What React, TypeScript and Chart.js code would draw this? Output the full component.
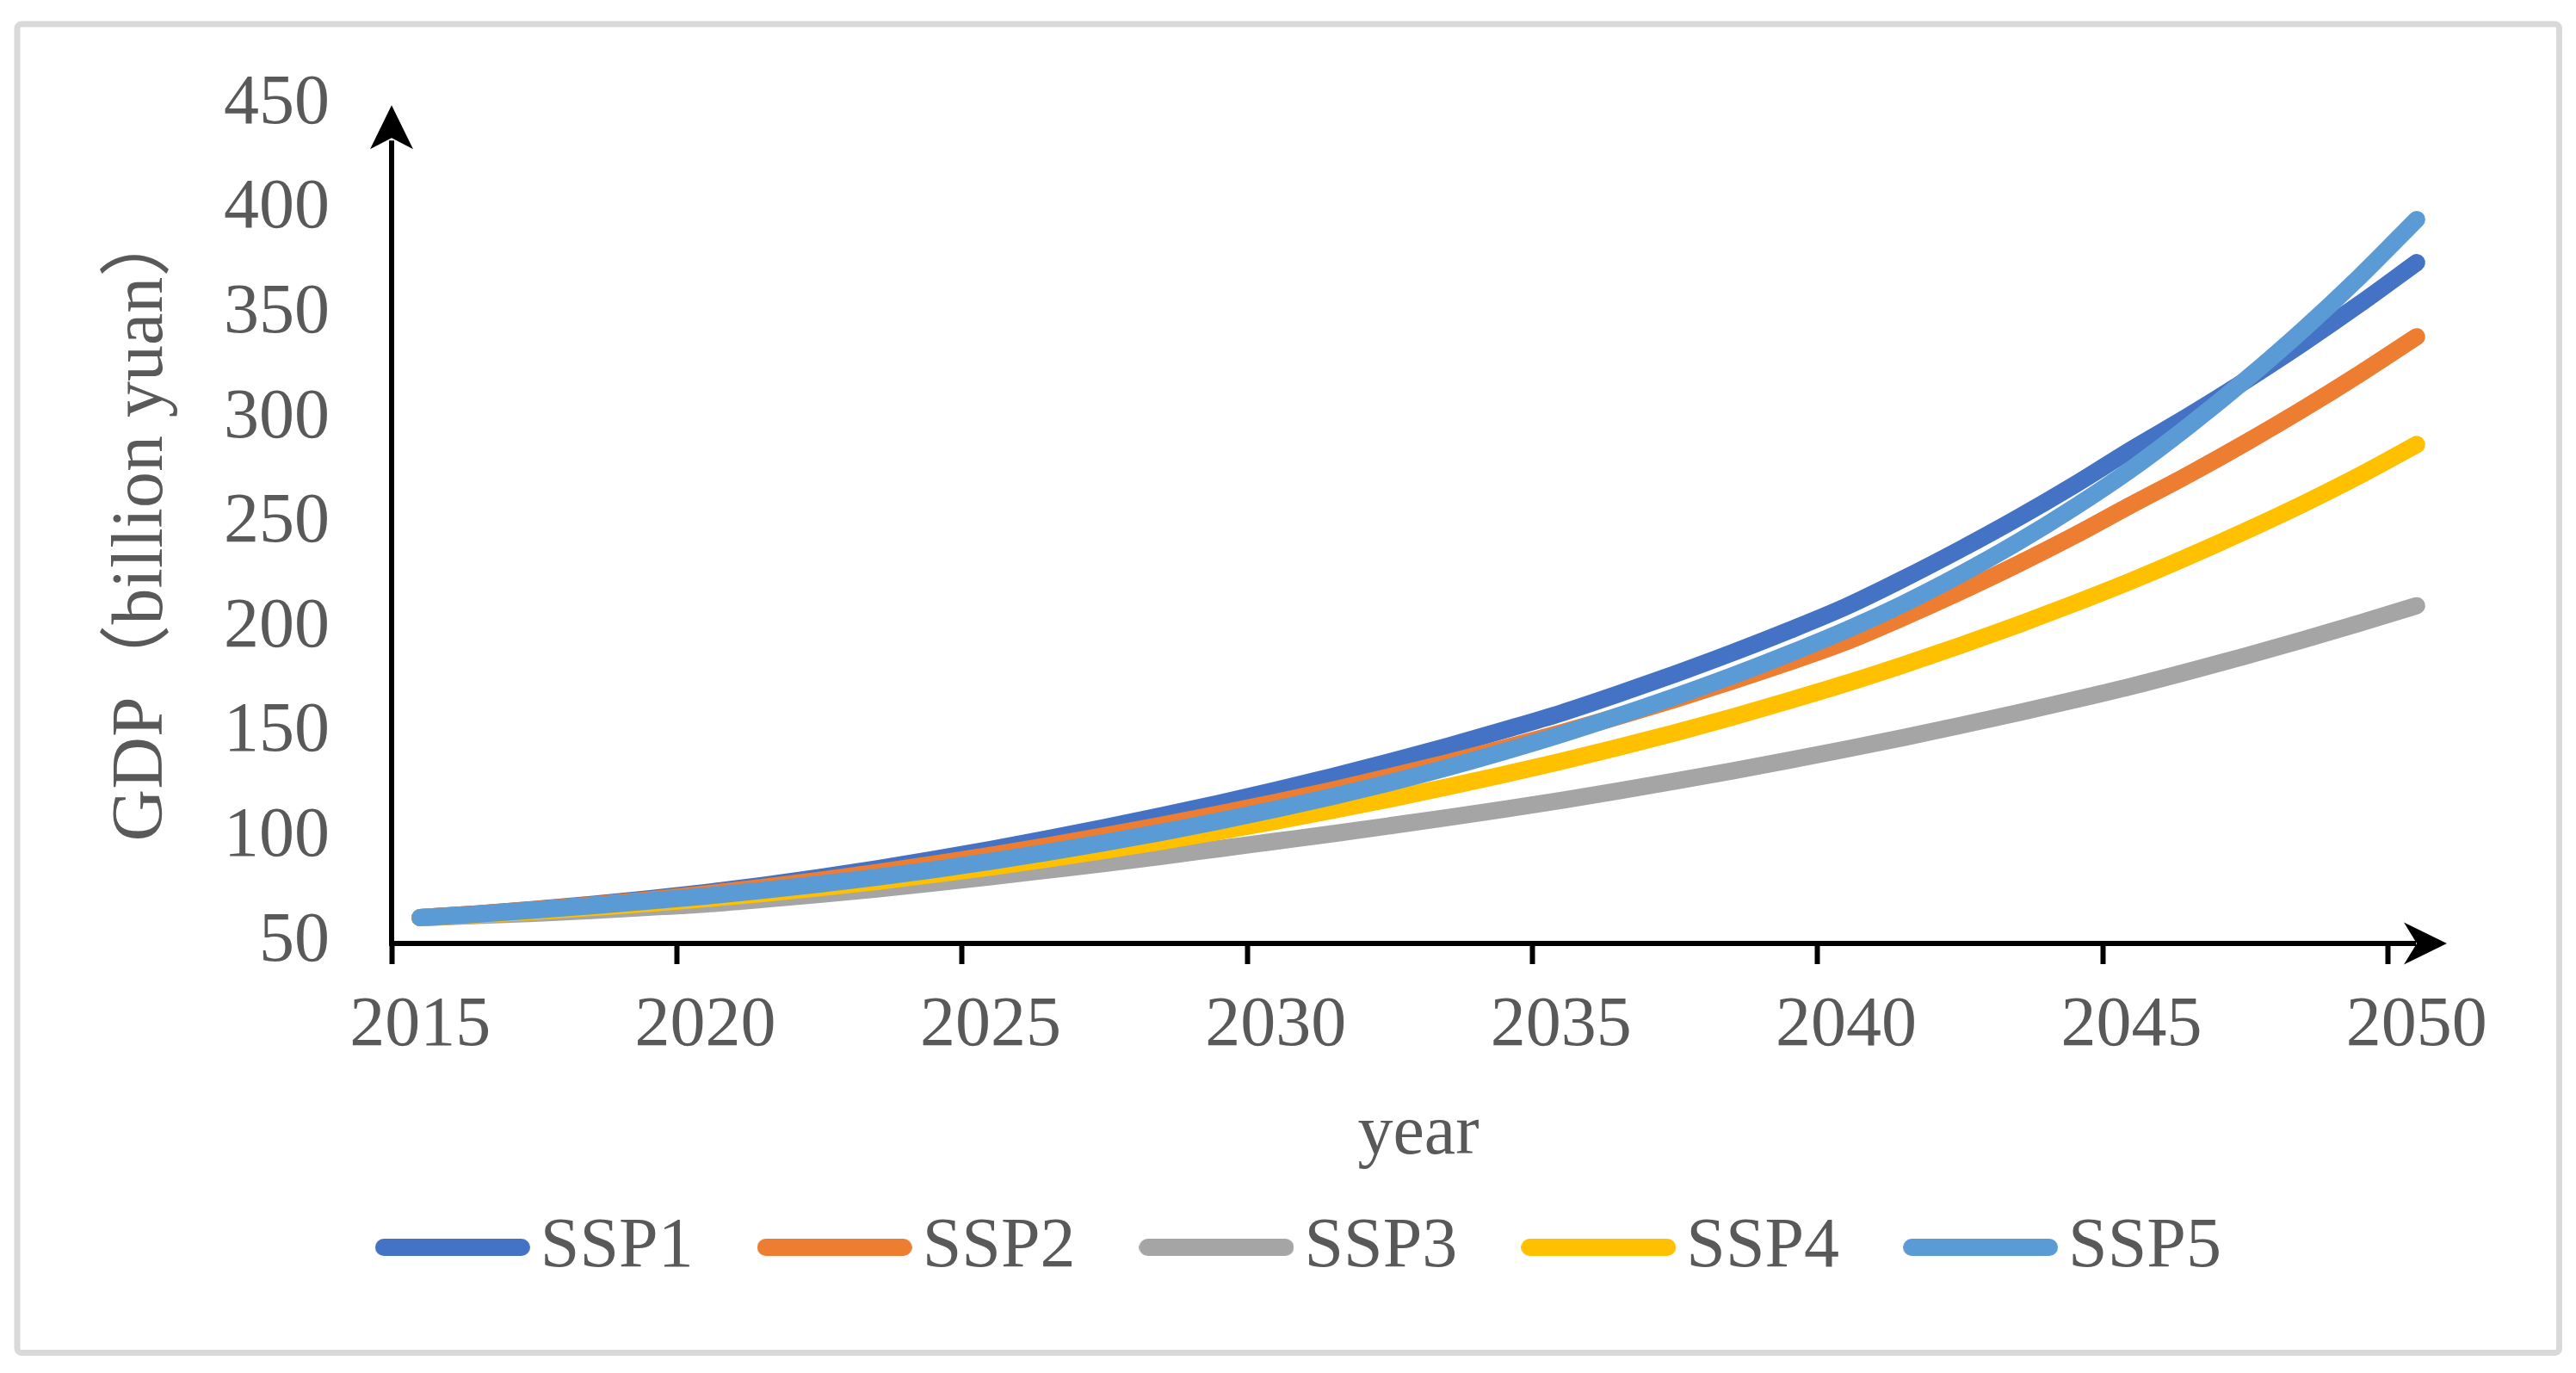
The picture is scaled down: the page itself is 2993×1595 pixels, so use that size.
import React, { useEffect, useRef } from 'react';
import { Chart, registerables } from 'chart.js';

Chart.register(...registerables);

// ---------- data ----------
const YEARS = [
  '2015', '2016', '2017', '2018', '2019', '2020', '2021', '2022', '2023', '2024',
  '2025', '2026', '2027', '2028', '2029', '2030', '2031', '2032', '2033', '2034',
  '2035', '2036', '2037', '2038', '2039', '2040', '2041', '2042', '2043', '2044',
  '2045', '2046', '2047', '2048', '2049', '2050',
];

const SSP1 = [
  61.5, 63.3, 65.4, 67.8, 70.5, 73.5, 76.9, 80.7, 84.8, 89.3,
  94.1, 99.2, 104.6, 110.2, 116.1, 122.4, 129.0, 136.0, 143.3, 151.1,
  159.2, 168.3, 177.9, 188.0, 198.7, 210.1, 223.3, 237.4, 252.3, 268.2,
  285.1, 301.1, 318.0, 335.8, 354.6, 374.4,
];
const SSP2 = [
  61.5, 63.3, 65.3, 67.5, 70.0, 72.8, 75.9, 79.3, 83.0, 87.0,
  91.3, 95.8, 100.6, 105.7, 111.0, 116.6, 122.5, 128.8, 135.4, 142.4,
  149.8, 157.6, 165.8, 174.5, 183.6, 193.3, 204.9, 217.2, 230.2, 244.0,
  258.7, 273.1, 288.3, 304.3, 321.2, 339.0,
];
const SSP3 = [
  61.5, 62.5, 63.6, 64.9, 66.4, 68.0, 70.2, 72.6, 75.2, 78.0,
  81.0, 84.2, 87.4, 90.8, 94.4, 98.0, 101.6, 105.4, 109.3, 113.3,
  117.5, 122.0, 126.7, 131.6, 136.7, 142.0, 147.5, 153.3, 159.3, 165.5,
  172.0, 179.1, 186.5, 194.2, 202.2, 210.5,
];
const SSP4 = [
  61.5, 62.9, 64.5, 66.3, 68.3, 70.5, 73.0, 75.8, 78.8, 82.1,
  85.6, 89.5, 93.6, 98.0, 102.7, 107.6, 112.8, 118.2, 123.9, 129.9,
  136.1, 142.8, 149.8, 157.3, 165.2, 173.4, 182.2, 191.5, 201.3, 211.6,
  222.4, 234.0, 246.2, 259.0, 272.7, 287.5,
];
const SSP5 = [
  61.5, 63.2, 65.1, 67.2, 69.4, 71.8, 74.5, 77.5, 80.8, 84.4,
  88.4, 92.7, 97.3, 102.3, 107.6, 113.3, 119.4, 126.0, 133.1, 140.8,
  149.0, 157.8, 167.1, 177.0, 187.6, 198.9, 211.4, 225.4, 240.7, 257.5,
  275.8, 296.3, 318.4, 342.1, 367.6, 395.0,
];

const SERIES_NAMES = ['SSP1', 'SSP2', 'SSP3', 'SSP4', 'SSP5'];
const SERIES_VALUES = [SSP1, SSP2, SSP3, SSP4, SSP5];
const SERIES_COLORS = ['#4472C4', '#ED7D31', '#A5A5A5', '#FFC000', '#5B9BD5'];

const Y_MIN = 50;
const Y_MAX = 450;
const Y_STEP = 50;
const X_LABEL_EVERY = 5;
const Y_TITLE = 'GDP（billion yuan）';
const X_TITLE = 'year';

// ---------- styling ----------
const W = 2993;
const H = 1595;
const FONT_FAMILY = "'Liberation Serif', 'Times New Roman', 'Noto Sans CJK SC', serif";
const TEXT_COLOR = '#595959';
const FONT_SIZE = 82;
const TITLE_Y_SIZE = 84;
const LINE_WIDTH = 20;

function makeSwatch(color: string) {
  const c = document.createElement('canvas');
  c.width = 180;
  c.height = 22;
  const g = c.getContext('2d')!;
  g.strokeStyle = color;
  g.lineWidth = LINE_WIDTH;
  g.lineCap = 'round';
  g.beginPath();
  g.moveTo(10, 11);
  g.lineTo(170, 11);
  g.stroke();
  return c;
}

const decorPlugin = {
  id: 'decor',
  afterLayout(chart: any) {
    const lg = chart.legend;
    if (lg) {
      const dx = 87.4;
      lg.left = 30 + dx;
      lg.right = lg.left + lg.width;
    }
  },
  beforeDraw(chart: any) {
    const { ctx } = chart;
    ctx.save();
    ctx.fillStyle = '#ffffff';
    ctx.fillRect(0, 0, chart.width, chart.height);
    ctx.strokeStyle = '#d9d9d9';
    ctx.lineWidth = 7;
    ctx.beginPath();
    if (ctx.roundRect) ctx.roundRect(20, 28, 2953.5, 1543.5, 5);
    else ctx.rect(20, 28, 2953.5, 1543.5);
    ctx.stroke();
    ctx.restore();
  },
  beforeDatasetsDraw(chart: any) {
    const { ctx, chartArea: a } = chart;
    ctx.save();
    ctx.fillStyle = '#000';
    ctx.strokeStyle = '#000';
    ctx.lineWidth = 6;
    ctx.lineCap = 'butt';
    const axY = a.bottom + 2;
    const axX = a.left;
    // y axis with arrow
    ctx.beginPath();
    ctx.moveTo(axX, axY + 3);
    ctx.lineTo(axX, a.top + 42);
    ctx.stroke();
    ctx.beginPath();
    ctx.moveTo(axX, a.top + 1);
    ctx.lineTo(axX - 25, a.top + 52);
    ctx.lineTo(axX, a.top + 39);
    ctx.lineTo(axX + 25, a.top + 52);
    ctx.closePath();
    ctx.fill();
    // x axis with arrow
    const tipX = a.right + 2;
    ctx.beginPath();
    ctx.moveTo(axX - 3, axY);
    ctx.lineTo(tipX - 36, axY);
    ctx.stroke();
    ctx.beginPath();
    ctx.moveTo(tipX, axY);
    ctx.lineTo(tipX - 50, axY - 24.5);
    ctx.lineTo(tipX - 35, axY);
    ctx.lineTo(tipX - 50, axY + 24.5);
    ctx.closePath();
    ctx.fill();
    ctx.restore();
  },
};

export default function App() {
  const ref = useRef<HTMLCanvasElement>(null);

  useEffect(() => {
    const canvas = ref.current;
    if (!canvas) return;
    const font = { family: FONT_FAMILY, size: FONT_SIZE, weight: 'normal' as const };
    const yTitleFont = { family: FONT_FAMILY, size: TITLE_Y_SIZE, weight: 'normal' as const };

    const datasets = SERIES_NAMES.map((name, i) => ({
      label: name,
      data: SERIES_VALUES[i],
      borderColor: SERIES_COLORS[i],
      backgroundColor: SERIES_COLORS[i],
      borderWidth: LINE_WIDTH,
      borderCapStyle: 'round' as const,
      borderJoinStyle: 'round' as const,
      pointRadius: 0,
      pointHoverRadius: 0,
      pointStyle: makeSwatch(SERIES_COLORS[i]) as any,
      cubicInterpolationMode: 'monotone' as const,
      fill: false,
      clip: false as any,
      order: SERIES_NAMES.length - 1 - i,
    }));

    const chart = new Chart(canvas, {
      type: 'line',
      data: { labels: YEARS, datasets },
      plugins: [decorPlugin],
      options: {
        responsive: false,
        animation: false,
        devicePixelRatio: 1,
        events: [],
        layout: { padding: { left: 30, right: 152, top: 112, bottom: 95 } },
        plugins: {
          tooltip: { enabled: false },
          legend: {
            display: true,
            position: 'bottom',
            labels: {
              usePointStyle: true,
              pointStyleWidth: 122,
              padding: 103,
              color: TEXT_COLOR,
              font,
              sort: (a: any, b: any) => a.datasetIndex - b.datasetIndex,
            },
          },
        },
        scales: {
          x: {
            type: 'category',
            offset: true,
            grid: {
              display: true,
              offset: true,
              drawOnChartArea: false,
              drawTicks: true,
              tickLength: 26,
              tickWidth: 6,
              tickColor: (c: any) => (c.index % X_LABEL_EVERY === 0 && c.index < YEARS.length ? '#000' : 'rgba(0,0,0,0)'),
            },
            border: { display: false },
            ticks: {
              autoSkip: false,
              maxRotation: 0,
              minRotation: 0,
              padding: 22.8,
              color: TEXT_COLOR,
              font,
              callback: function (this: any, v: any, i: number) {
                return i % X_LABEL_EVERY === 0 ? this.getLabelForValue(v) : '';
              },
            },
            title: {
              display: true,
              text: X_TITLE,
              color: TEXT_COLOR,
              font,
              padding: { top: 0, bottom: -62.2 },
            },
            afterFit: (s: any) => {
              s.height = 211;
            },
          },
          y: {
            type: 'linear',
            min: Y_MIN,
            max: Y_MAX,
            grid: { display: false, drawTicks: false },
            border: { display: false },
            ticks: {
              stepSize: Y_STEP,
              padding: 72,
              color: TEXT_COLOR,
              font,
            },
            title: {
              display: true,
              text: Y_TITLE,
              color: TEXT_COLOR,
              font: yTitleFont,
              padding: { top: 85.6, bottom: 0 },
            },
            afterFit: (s: any) => {
              s.width = 425;
            },
          },
        },
      } as any,
    });

    return () => chart.destroy();
  }, []);

  return (
    <div style={{ position: 'fixed', left: 0, top: 0, width: W, height: H, background: '#fff' }}>
      <canvas ref={ref} width={W} height={H} style={{ display: 'block', width: W, height: H }} />
    </div>
  );
}
